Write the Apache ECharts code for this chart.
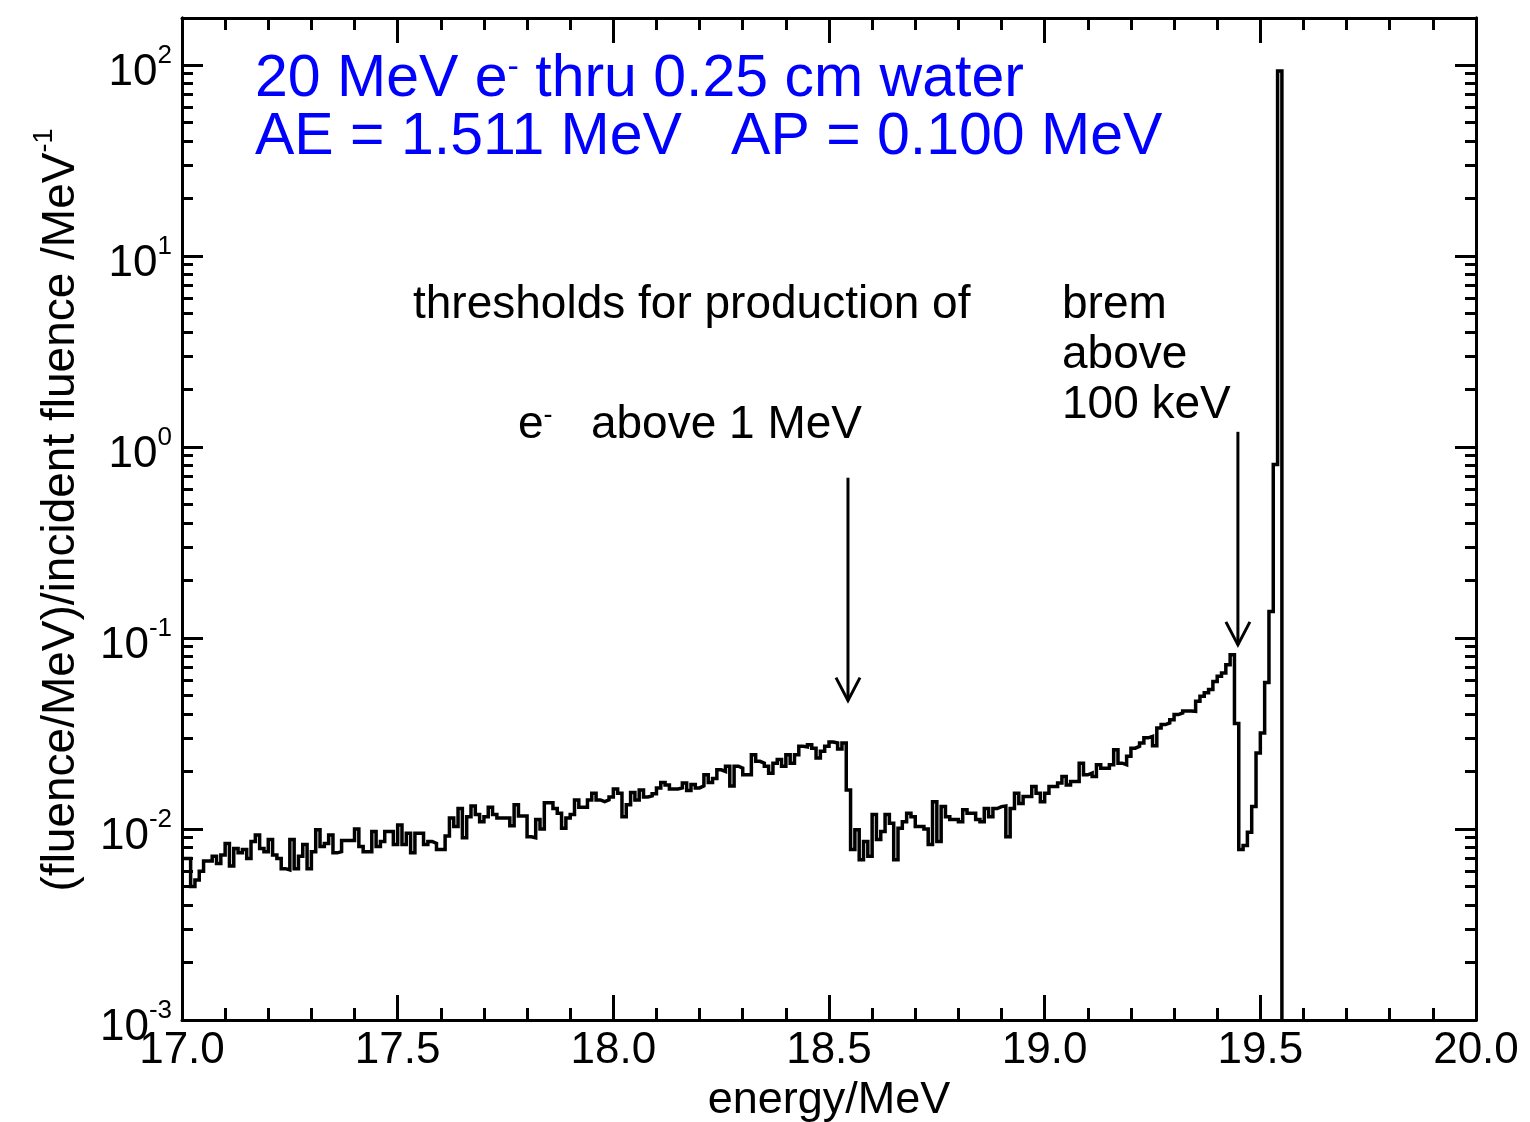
<!DOCTYPE html>
<html>
<head>
<meta charset="utf-8">
<script src="https://cdn.jsdelivr.net/npm/echarts@6/dist/echarts.min.js"></script>
<style>html,body{margin:0;padding:0;background:#fff}#c{width:1530px;height:1122px}</style>
</head>
<body>
<div id="c"></div>
<script>
// ---------------- data ----------------
const binStart = 17.00;     // MeV, left edge of first bin
const binWidth = 0.01;      // MeV
// (fluence/MeV)/incident fluence per bin
const fluence = [
  0.0070, 0.0070, 0.0050, 0.0054, 0.0060, 0.0068, 0.0068, 0.0072, 0.0066, 0.0073,
  0.0084, 0.0064, 0.0079, 0.0075, 0.0078, 0.0070, 0.0086, 0.0093, 0.0079, 0.0076,
  0.0088, 0.0073, 0.0070, 0.0062, 0.0061, 0.0088, 0.0062, 0.0072, 0.0083, 0.0062,
  0.0076, 0.0099, 0.0081, 0.0084, 0.0093, 0.0075, 0.0076, 0.0087, 0.0087, 0.0087,
  0.0100, 0.0081, 0.0076, 0.0076, 0.0097, 0.0081, 0.0086, 0.0097, 0.0097, 0.0083,
  0.0105, 0.0083, 0.0095, 0.0075, 0.0095, 0.0095, 0.0083, 0.0086, 0.0084, 0.0078,
  0.0078, 0.0092, 0.0114, 0.0103, 0.0128, 0.0090, 0.0116, 0.0132, 0.0119, 0.0109,
  0.0116, 0.0130, 0.0119, 0.0114, 0.0114, 0.0114, 0.0104, 0.0134, 0.0117, 0.0117,
  0.0091, 0.0090, 0.0112, 0.0100, 0.0137, 0.0137, 0.0128, 0.0121, 0.0101, 0.0114,
  0.0119, 0.0142, 0.0130, 0.0130, 0.0142, 0.0154, 0.0142, 0.0139, 0.0142, 0.0147,
  0.0162, 0.0154, 0.0116, 0.0134, 0.0155, 0.0142, 0.0160, 0.0147, 0.0149, 0.0153,
  0.0164, 0.0175, 0.0170, 0.0162, 0.0162, 0.0164, 0.0174, 0.0159, 0.0171, 0.0164,
  0.0168, 0.0192, 0.0175, 0.0184, 0.0204, 0.0200, 0.0213, 0.0168, 0.0213, 0.0208,
  0.0192, 0.0192, 0.0245, 0.0226, 0.0221, 0.0213, 0.0196, 0.0221, 0.0231, 0.0213,
  0.0245, 0.0221, 0.0245, 0.0271, 0.0269, 0.0276, 0.0265, 0.0235, 0.0255, 0.0271,
  0.0285, 0.0282, 0.0262, 0.0282, 0.0160, 0.0078, 0.0099, 0.0069, 0.0086, 0.0072,
  0.0119, 0.0088, 0.0097, 0.0119, 0.0107, 0.0069, 0.0101, 0.0109, 0.0121, 0.0116,
  0.0103, 0.0103, 0.0100, 0.0083, 0.0139, 0.0086, 0.0131, 0.0116, 0.0112, 0.0112,
  0.0109, 0.0126, 0.0121, 0.0121, 0.0112, 0.0109, 0.0128, 0.0116, 0.0128, 0.0131,
  0.0132, 0.0091, 0.0128, 0.0154, 0.0136, 0.0148, 0.0148, 0.0167, 0.0154, 0.0139,
  0.0154, 0.0167, 0.0167, 0.0174, 0.0188, 0.0170, 0.0177, 0.0177, 0.0221, 0.0192,
  0.0196, 0.0188, 0.0217, 0.0208, 0.0208, 0.0217, 0.0260, 0.0221, 0.0217, 0.0240,
  0.0265, 0.0271, 0.0282, 0.0300, 0.0305, 0.0273, 0.0338, 0.0352, 0.0359, 0.0373,
  0.0397, 0.0405, 0.0415, 0.0415, 0.0413, 0.0466, 0.0495, 0.0516, 0.0537, 0.0592,
  0.0630, 0.0656, 0.0725, 0.0818, 0.0357, 0.0078, 0.0082, 0.0096, 0.0131, 0.0250,
  0.0318, 0.0585, 0.1375, 0.81, 93
];
const beyondValue = 1e-5;   // no fluence above the last bin (drawn down past the axis floor)

const xMin = 17.0, xMax = 20.0, xStep = 0.5;
const yMin = 1e-3, yMax = 176;
const yMajorTicks = [1e-3, 1e-2, 1e-1, 1, 10, 100];
const yMinorTicks = [];
for (const d of [1e-3, 1e-2, 1e-1, 1, 10]) for (let k = 2; k <= 9; k++) yMinorTicks.push(+(k * d).toPrecision(3));

// arrows: energy, top value, tip value
const arrowEnergy = [18.544, 19.448];
const arrowTop    = [0.69, 1.2];
const arrowTip    = [0.047, 0.092];

const titleLine1 = ['20 MeV e', '-', ' thru 0.25 cm water'];
const titleLine2 = 'AE = 1.511 MeV   AP = 0.100 MeV';
const noteThresh = 'thresholds for production of';
const noteElec = ['e', '-', '   above 1 MeV'];
const noteBrem = ['brem', 'above', '100 keV'];
const yTitle = ['(fluence/MeV)/incident fluence /MeV', '-1'];
const xTitle = 'energy/MeV';

// ---------------- chart ----------------
const FONT = '"Liberation Sans", Arial, Helvetica, sans-serif';
const chart = echarts.init(document.getElementById('c'), null, {renderer: 'canvas', width: 1530, height: 1122});

const seriesData = fluence.map((v, i) => [+(binStart + i * binWidth).toFixed(2), v]);
seriesData.push([+(binStart + fluence.length * binWidth).toFixed(2), beyondValue]);

const black = '#000';
const lineSty = {color: black, width: 3};
const gridRect = {left: 182, right: 54, top: 18, bottom: 102, outerBoundsMode: 'none', containLabel: false};

const xCommon = {
  type: 'value', min: xMin, max: xMax, interval: xStep,
  splitLine: {show: false}, minorSplitLine: {show: false},
  axisLine: {show: true, onZero: false, lineStyle: lineSty},
  axisTick: {show: true, inside: true, length: 25, lineStyle: lineSty},
  minorTick: {show: true, splitNumber: 5, length: 12, lineStyle: lineSty}
};
const yCommon = {
  type: 'log', logBase: 10, min: yMin, max: yMax,
  splitLine: {show: false}, minorSplitLine: {show: false}, minorTick: {show: false},
  axisLine: {show: true, onZero: false, lineStyle: lineSty}
};

const option = {
  animation: false,
  backgroundColor: '#fff',
  grid: [Object.assign({}, gridRect), Object.assign({}, gridRect)],
  xAxis: [
    Object.assign({}, xCommon, {
      gridIndex: 0, position: 'bottom',
      axisLabel: {show: true, fontSize: 44, color: black, fontFamily: FONT, margin: 9,
        showMinLabel: true, showMaxLabel: true, formatter: v => v.toFixed(1)},
      name: xTitle, nameLocation: 'middle', nameGap: 76,
      nameTextStyle: {fontSize: 45, color: black, fontFamily: FONT, verticalAlign: 'middle'}
    }),
    Object.assign({}, xCommon, {gridIndex: 0, position: 'top', axisLabel: {show: false}}),
    Object.assign({}, xCommon, {gridIndex: 1, show: false}),
  ],
  yAxis: [
    Object.assign({}, yCommon, {
      gridIndex: 0, position: 'left',
      axisTick: {show: true, inside: true, length: 21, customValues: yMajorTicks, lineStyle: lineSty},
      axisLabel: {
        show: true, customValues: yMajorTicks, margin: 10, color: black, fontFamily: FONT,
        formatter: v => '{b|10}{s|' + Math.round(Math.log10(v)) + '}',
        rich: {
          b: {fontSize: 44, lineHeight: 44, padding: [16, 0, 0, 0], color: black, fontFamily: FONT},
          s: {fontSize: 26, lineHeight: 42, verticalAlign: 'top', color: black, fontFamily: FONT}
        }
      },
      name: '{n|' + yTitle[0] + '}{s|' + yTitle[1] + '}',
      nameLocation: 'middle', nameRotate: 90, nameGap: 128,
      nameTextStyle: {
        align: 'center', verticalAlign: 'middle', color: black, fontFamily: FONT,
        rich: {
          n: {fontSize: 46, lineHeight: 46, padding: [14, 0, 0, 18], color: black, fontFamily: FONT},
          s: {fontSize: 27, lineHeight: 14, verticalAlign: 'top', color: black, fontFamily: FONT}
        }
      }
    }),
    Object.assign({}, yCommon, {
      gridIndex: 0, position: 'right',
      axisTick: {show: true, inside: true, length: 21, customValues: yMajorTicks, lineStyle: lineSty},
      axisLabel: {show: false}
    }),
    Object.assign({}, yCommon, {
      gridIndex: 1, position: 'left',
      axisTick: {show: true, inside: true, length: 11, customValues: yMinorTicks, lineStyle: lineSty},
      axisLabel: {show: false}
    }),
    Object.assign({}, yCommon, {
      gridIndex: 1, position: 'right',
      axisTick: {show: true, inside: true, length: 11, customValues: yMinorTicks, lineStyle: lineSty},
      axisLabel: {show: false}
    })
  ],
  series: [{
    type: 'line', xAxisIndex: 0, yAxisIndex: 0, step: 'end', showSymbol: false, symbol: 'none',
    clip: true, lineStyle: {color: black, width: 3.5, join: 'miter'}, data: seriesData
  }]
};
chart.setOption(option);

// ---------------- annotations ----------------
const g = [];
g.push({type: 'text', x: 255, y: 80, z: 10, style: {
  text: '{n|' + titleLine1[0] + '}{s|' + titleLine1[1] + '}{n|' + titleLine1[2] + '}',
  align: 'left', verticalAlign: 'middle', fill: '#0000ff',
  rich: {n: {fontSize: 59, lineHeight: 59, fontFamily: FONT, fill: '#0000ff'},
         s: {fontSize: 34, lineHeight: 6, verticalAlign: 'top', fontFamily: FONT, fill: '#0000ff'}}
}});
g.push({type: 'text', x: 255, y: 138, z: 10, style: {
  text: titleLine2, align: 'left', verticalAlign: 'middle', fill: '#0000ff',
  font: '59px ' + FONT
}});
g.push({type: 'text', x: 413, y: 305, z: 10, style: {
  text: noteThresh, align: 'left', verticalAlign: 'middle', fill: black, font: '46px ' + FONT
}});
g.push({type: 'text', x: 518, y: 425, z: 10, style: {
  text: '{n|' + noteElec[0] + '}{s|' + noteElec[1] + '}{n|' + noteElec[2] + '}',
  align: 'left', verticalAlign: 'middle', fill: black,
  rich: {n: {fontSize: 46, lineHeight: 46, fontFamily: FONT, fill: black},
         s: {fontSize: 27, lineHeight: 2, verticalAlign: 'top', fontFamily: FONT, fill: black}}
}});
noteBrem.forEach((t, i) => g.push({type: 'text', x: 1062, y: 305 + 50 * i, z: 10, style: {
  text: t, align: 'left', verticalAlign: 'middle', fill: black, font: '46px ' + FONT
}}));

arrowEnergy.forEach((e, i) => {
  const top = chart.convertToPixel({xAxisIndex: 0, yAxisIndex: 0}, [e, arrowTop[i]]);
  const tip = chart.convertToPixel({xAxisIndex: 0, yAxisIndex: 0}, [e, arrowTip[i]]);
  g.push({type: 'polyline', z: 10, shape: {points: [top, tip]}, style: {stroke: black, lineWidth: 3, fill: null}});
  g.push({type: 'polyline', z: 10, shape: {points: [[tip[0] - 12, tip[1] - 23], tip, [tip[0] + 12, tip[1] - 23]]},
          style: {stroke: black, lineWidth: 3, fill: null}});
});
chart.setOption({graphic: g});
</script>
</body>
</html>
